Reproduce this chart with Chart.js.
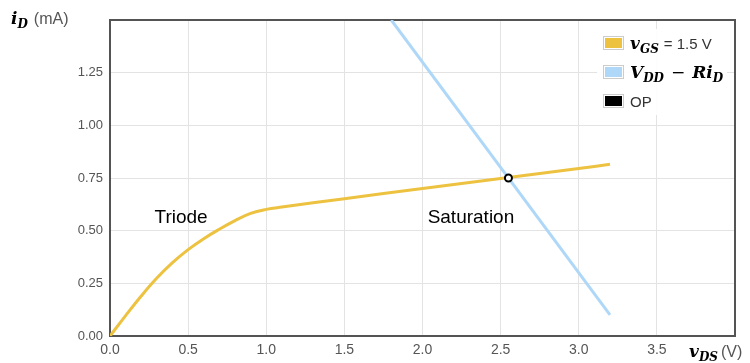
<!DOCTYPE html>
<html>
<head>
<meta charset="utf-8">
<script src="https://cdn.jsdelivr.net/npm/chart.js@4.4.1/dist/chart.umd.min.js"></script>
<style>
  body { margin: 0; background: #fff; }
  canvas { display: block; }
</style>
</head>
<body>
<canvas id="mosfetChart" width="750" height="363"></canvas>
<script>
// transfer curve for vGS = 1.5 V
const vdsValues = [0, 0.1, 0.2, 0.3, 0.4, 0.5, 0.6, 0.7, 0.8, 0.9, 1.0, 1.1, 1.5, 2.0, 2.5, 3.0, 3.2];
const idValues  = [0, 0.097, 0.19, 0.275, 0.348, 0.41, 0.462, 0.507, 0.548, 0.582, 0.601, 0.612, 0.652, 0.70, 0.748, 0.795, 0.815];

// load line VDD - R*iD
const loadVds = [1.8, 3.2];
const loadId  = [1.5, 0.1];

// operating point
const opVds = [2.55];
const opId  = [0.75];

const xTicks = [0, 0.5, 1.0, 1.5, 2.0, 2.5, 3.0, 3.5, 4.0];
const yTicks = [0, 0.25, 0.5, 0.75, 1.0, 1.25, 1.5];

const regionLabels = ['Triode', 'Saturation'];
const regionX = [0.455, 2.31];
const regionY = [0.57, 0.57];

const SANS = '"Liberation Sans", Arial, sans-serif';
const SERIF = '"DejaVu Serif", "Liberation Serif", serif';

function toPoints(xs, ys) {
    return xs.map((x, i) => ({ x: x, y: ys[i] }));
}

// draw a run of text pieces, some as subscripts
function drawRuns(ctx, x, y, runs) {
    runs.forEach(r => {
        ctx.font = r.font;
        ctx.fillStyle = r.color || '#000';
        ctx.fillText(r.t, x, y + (r.dy || 0));
        x += ctx.measureText(r.t).width + (r.gap || 0);
    });
}

const mathBig = 'bold italic 17px ' + SERIF;
const mathSub = 'bold italic 12px ' + SERIF;

const decorPlugin = {
    id: 'decor',
    beforeDatasetsDraw(chart) {
        const { ctx, chartArea: a } = chart;
        ctx.save();
        ctx.strokeStyle = '#545454';
        ctx.lineWidth = 2;
        ctx.strokeRect(a.left, a.top, a.right - a.left, a.bottom - a.top);
        ctx.restore();
    },
    afterDatasetsDraw(chart) {
        const { ctx, scales } = chart;
        ctx.save();
        ctx.textBaseline = 'alphabetic';

        // region labels
        ctx.font = '19px ' + SANS;
        ctx.fillStyle = '#000';
        ctx.textAlign = 'center';
        regionLabels.forEach((t, i) => {
            ctx.fillText(t, scales.x.getPixelForValue(regionX[i]), scales.y.getPixelForValue(regionY[i]) + 7);
        });
        ctx.textAlign = 'left';

        // axis titles
        drawRuns(ctx, 11, 24, [
            { t: 'i', font: mathBig },
            { t: 'D', font: mathSub, dy: 4, gap: 6 },
            { t: '(mA)', font: '16px ' + SANS, color: '#555' }
        ]);
        drawRuns(ctx, 689, 357, [
            { t: 'v', font: mathBig },
            { t: 'DS', font: mathSub, dy: 4, gap: 3 },
            { t: '(V)', font: '16px ' + SANS, color: '#555' }
        ]);

        // legend box
        ctx.fillStyle = 'rgba(255,255,255,0.9)';
        ctx.fillRect(597, 29, 130, 86);
        const sw = chart.data.datasets.map(d => d.legendColor);
        const rows = [43, 72, 101];
        rows.forEach((cy, i) => {
            ctx.fillStyle = '#fff';
            ctx.fillRect(603, cy - 7, 21, 14);
            ctx.strokeStyle = '#ccc';
            ctx.lineWidth = 1;
            ctx.strokeRect(603.5, cy - 6.5, 20, 13);
            ctx.fillStyle = sw[i];
            ctx.fillRect(605, cy - 5, 17, 10);
        });
        drawRuns(ctx, 630, 49, [
            { t: 'v', font: mathBig },
            { t: 'GS', font: mathSub, dy: 4, gap: 5 },
            { t: '= 1.5 V', font: '15px ' + SANS, color: '#333' }
        ]);
        drawRuns(ctx, 630, 78, [
            { t: 'V', font: mathBig },
            { t: 'DD', font: mathSub, dy: 4, gap: 7 },
            { t: '\u2212', font: '17px ' + SERIF, gap: 7 },
            { t: 'Ri', font: mathBig },
            { t: 'D', font: mathSub, dy: 4 }
        ]);
        drawRuns(ctx, 630, 107, [
            { t: 'OP', font: '15px ' + SANS, color: '#333' }
        ]);
        ctx.restore();
    }
};

new Chart(document.getElementById('mosfetChart').getContext('2d'), {
    type: 'scatter',
    data: {
        datasets: [{
            label: 'vGS = 1.5 V',
            data: toPoints(vdsValues, idValues),
            showLine: true,
            borderColor: '#edc240',
            legendColor: '#edc240',
            borderWidth: 3,
            pointRadius: 0,
            tension: 0.4,
            order: 2
        }, {
            label: 'VDD - RiD',
            data: toPoints(loadVds, loadId),
            showLine: true,
            borderColor: '#afd8f8',
            legendColor: '#afd8f8',
            borderWidth: 3,
            pointRadius: 0,
            order: 3
        }, {
            label: 'OP',
            data: toPoints(opVds, opId),
            legendColor: '#000',
            pointRadius: 3.5,
            pointBorderWidth: 2,
            pointBackgroundColor: '#fff',
            pointBorderColor: '#000',
            order: 1
        }]
    },
    options: {
        responsive: false,
        animation: false,
        layout: { padding: { top: 20, right: 15, left: 0, bottom: 0 } },
        plugins: {
            legend: { display: false },
            tooltip: { enabled: false }
        },
        scales: {
            x: {
                type: 'linear',
                min: 0,
                max: 4,
                afterBuildTicks: s => { s.ticks = xTicks.map(v => ({ value: v })); },
                afterFit: s => { s.height = 27; },
                grid: { color: '#e3e3e3', drawTicks: false },
                border: { display: false },
                ticks: {
                    padding: 6,
                    color: '#555',
                    font: { family: SANS, size: 14 },
                    callback: v => v === 4 ? '' : v.toFixed(1)
                }
            },
            y: {
                type: 'linear',
                min: 0,
                max: 1.5,
                afterBuildTicks: s => { s.ticks = yTicks.map(v => ({ value: v })); },
                afterFit: s => { s.width = 110; },
                grid: { color: '#e3e3e3', drawTicks: false },
                border: { display: false },
                ticks: {
                    padding: 7,
                    color: '#555',
                    font: { family: SANS, size: 13 },
                    callback: v => v === 1.5 ? '' : v.toFixed(2)
                }
            }
        }
    },
    plugins: [decorPlugin]
});
</script>
</body>
</html>
